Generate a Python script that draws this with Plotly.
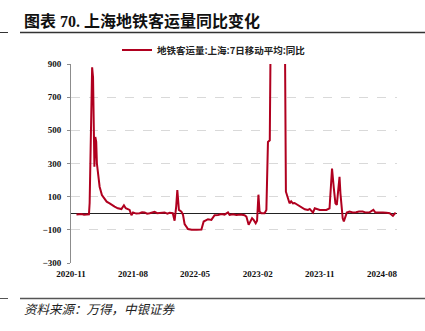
import plotly.graph_objects as go

# ---- data ----
dates = [
    "2020-11-25", "2020-12-05", "2020-12-18", "2020-12-28", "2021-01-04", "2021-01-12", "2021-01-19",
    "2021-01-22", "2021-01-26", "2021-01-29", "2021-02-02", "2021-02-06", "2021-02-12", "2021-02-16",
    "2021-02-20", "2021-02-23", "2021-02-28", "2021-03-07", "2021-03-17", "2021-03-29", "2021-04-07",
    "2021-04-20", "2021-04-29", "2021-05-12", "2021-05-26", "2021-06-11", "2021-06-22", "2021-06-30",
    "2021-07-17", "2021-07-25", "2021-08-01", "2021-08-15", "2021-08-30", "2021-09-10", "2021-09-21",
    "2021-10-02", "2021-10-13", "2021-10-25", "2021-11-04", "2021-11-15", "2021-11-26", "2021-12-08",
    "2021-12-18", "2021-12-30", "2022-01-09", "2022-01-23", "2022-01-31", "2022-02-07", "2022-02-12",
    "2022-02-19", "2022-03-02", "2022-03-09", "2022-03-16", "2022-03-31", "2022-04-16", "2022-05-08",
    "2022-05-29", "2022-06-08", "2022-06-27", "2022-07-12", "2022-07-19", "2022-07-26", "2022-08-10",
    "2022-08-25", "2022-09-08", "2022-09-23", "2022-09-30", "2022-10-15", "2022-10-30", "2022-11-18",
    "2022-12-05", "2022-12-13", "2022-12-23", "2023-01-01", "2023-01-07", "2023-01-14", "2023-01-23",
    "2023-01-29", "2023-02-04", "2023-02-09", "2023-02-17", "2023-03-03", "2023-03-11", "2023-03-18",
    "2023-03-26", "2023-03-30", "2023-04-08", "2023-04-30", "2023-05-22", "2023-06-01", "2023-06-05",
    "2023-06-14", "2023-06-21", "2023-06-28", "2023-07-06", "2023-07-13", "2023-07-28", "2023-08-05",
    "2023-08-27", "2023-09-10", "2023-09-18", "2023-10-02", "2023-10-10", "2023-11-01", "2023-11-15",
    "2023-11-30", "2023-12-14", "2023-12-21", "2023-12-25", "2024-01-02", "2024-01-09", "2024-01-15",
    "2024-01-23", "2024-01-27", "2024-01-31", "2024-02-06", "2024-02-10", "2024-02-15", "2024-02-21",
    "2024-02-28", "2024-03-11", "2024-03-25", "2024-04-09", "2024-04-22", "2024-05-08", "2024-05-22",
    "2024-06-07", "2024-06-24", "2024-07-03", "2024-07-20", "2024-08-05", "2024-08-20", "2024-09-04",
    "2024-09-18", "2024-09-26", "2024-09-30",
]
values = [
    -8, -5, -5, -9, -8, -4, -6,
    60, 450, 720, 880, 820, 280, 460,
    430, 300, 220, 160, 110, 85, 70,
    60, 50, 40, 30, 25, 48, 30,
    20, -12, 5, -2, 0, 6, 5,
    -3, 0, 4, 8, 0, 2, 7,
    5, -2, 3, 0, -45, 40, 140,
    20, 10, -10, -65, -95, -100, -100,
    -98, -50, -36, -40, -28, -12, -10,
    -5, -8, 5, -10, -6, -10, -8,
    -12, -20, -70, -40, -30, -40, -60,
    -45, 112, 10, 0, 0, 20, 430,
    440, 1100, 1800, 2500, 1800, 1000, 130,
    95, 60, 72, 60, 62, 50, 40,
    24, 20, 26, 4, 30, 20, 22,
    20, 30, 180, 270, 150, 60, 50,
    160, 220, 120, 20, -30, -50, -20,
    4, 10, 5, 6, 10, 10, 4,
    6, 20, 4, 6, 5, 3, 0,
    -16, -4, 4,
]
series_name = "地铁客运量:上海:7日移动平均:同比"
x_tick_dates = ["2020-11-01", "2021-08-01", "2022-05-01", "2023-02-01", "2023-11-01", "2024-08-01"]
y_ticks = [-300, -100, 100, 300, 500, 700, 900]

title_text = "图表 70. 上海地铁客运量同比变化"
source_text = "资料来源：万得，中银证券"

# ---- figure ----
L, R, T, B = 71, 28, 64, 68
W, H = 425, 331
pw, ph = W - L - R, H - T - B

def px_x(x):
    return (x - L) / pw

def px_y(y):
    return (H - B - y) / ph

serif = "Liberation Serif, Noto Sans CJK SC"
cjk = "Noto Sans CJK SC, Liberation Serif"

fig = go.Figure()
fig.add_trace(go.Scatter(
    x=dates, y=values, mode="lines", name=series_name,
    line=dict(color="#B0001F", width=2),
))

fig.update_layout(
    width=W, height=H,
    margin=dict(l=L, r=R, t=T, b=B, pad=0),
    paper_bgcolor="white", plot_bgcolor="white",
    showlegend=True,
    legend=dict(
        orientation="h", x=px_x(117), xanchor="left", y=px_y(50), yanchor="middle",
        font=dict(family=cjk, size=9.5, color="#222", weight="bold"),
        bgcolor="rgba(0,0,0,0)", itemwidth=30,
    ),
    xaxis=dict(
        type="date", range=["2020-11-01", "2024-10-06"],
        tickvals=x_tick_dates, tickformat="%Y-%m",
        showgrid=False, zeroline=False, showline=False, ticks="",
        tickfont=dict(family=serif, size=9, color="#111", weight="bold"),
        ticklabelstandoff=4,
    ),
    yaxis=dict(
        range=[-300, 900], tickvals=y_ticks,
        showgrid=True, gridcolor="#d9d9d9", griddash="dash", gridwidth=1,
        zeroline=True, zerolinecolor="#222", zerolinewidth=1,
        showline=True, linecolor="#8c8c8c", linewidth=1,
        ticks="outside", ticklen=3, tickcolor="#8c8c8c",
        tickfont=dict(family=serif, size=9, color="#111", weight="bold"),
        ticklabelstandoff=4,
    ),
    annotations=[
        dict(text=title_text, xref="paper", yref="paper", x=px_x(22), y=px_y(21),
             xanchor="left", yanchor="middle", showarrow=False,
             font=dict(family=serif, size=16, color="#111", weight="bold")),
        dict(text=source_text, xref="paper", yref="paper", x=px_x(22), y=px_y(308),
             xanchor="left", yanchor="middle", showarrow=False,
             font=dict(family=cjk, size=12.5, color="#222", style="italic")),
    ],
    shapes=[
        dict(type="line", xref="paper", yref="paper", x0=px_x(20), x1=px_x(425),
             y0=px_y(32.5), y1=px_y(32.5), line=dict(color="#333", width=1.5)),
        dict(type="line", xref="paper", yref="paper", x0=px_x(0), x1=px_x(8),
             y0=px_y(32.5), y1=px_y(32.5), line=dict(color="#333", width=1)),
        dict(type="line", xref="paper", yref="paper", x0=px_x(20), x1=px_x(425),
             y0=px_y(298.5), y1=px_y(298.5), line=dict(color="#555", width=1.5)),
        dict(type="line", xref="paper", yref="paper", x0=px_x(0), x1=px_x(8),
             y0=px_y(298.5), y1=px_y(298.5), line=dict(color="#555", width=1)),
    ],
)

fig.write_html("out.html")
